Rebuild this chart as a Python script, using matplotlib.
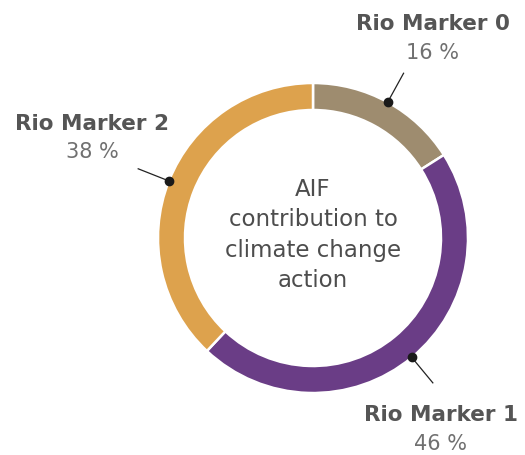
import numpy as np
import matplotlib
matplotlib.use("Agg")
import matplotlib.pyplot as plt

categories = ["Rio Marker 0", "Rio Marker 1", "Rio Marker 2"]
values = [16, 46, 38]
colors = ["#9E8C6F", "#6A3D86", "#DDA24D"]
center_text = "AIF\ncontribution to\nclimate change\naction"

W, H = 525, 455
fig = plt.figure(figsize=(W / 100, H / 100), dpi=100)
ax = fig.add_axes([0, 0, 1, 1])
ax.set_xlim(0, W)
ax.set_ylim(0, H)
ax.axis("off")

cx, cy = 313, H - 238
R = 155
wedges, _ = ax.pie(values, colors=colors, startangle=90, counterclock=False,
                   radius=R, center=(cx, cy),
                   wedgeprops=dict(width=27, edgecolor="white", linewidth=1.8))
ax.set_xlim(0, W)
ax.set_ylim(0, H)

font = ["DejaVu Sans"]
ax.text(cx, cy + 3, center_text, ha="center", va="center", fontsize=16.5,
        color="#4d4d4d", family=font, fontweight="normal", linespacing=1.42)

# label positions (pixel coords from top-left)
label_pos = [(433, 24, 53), (441, 415, 444), (92, 124, 152)]
for w, cat, val, (lx, ly, py) in zip(wedges, categories, values, label_pos):
    mid = np.deg2rad((w.theta1 + w.theta2) / 2)
    dx, dy = np.cos(mid), np.sin(mid)
    x0, y0 = cx + R * dx, cy + R * dy
    x1, y1 = cx + (R + 33) * dx, cy + (R + 33) * dy
    ax.plot([x0, x1], [y0, y1], color="#222222", lw=0.9, zorder=4)
    ax.plot([x0], [y0], "o", color="#1a1a1a", ms=6, zorder=5)
    ax.text(lx, H - ly, cat, ha="center", va="center", fontsize=15.5,
            fontweight="bold", color="#555555", family=font)
    ax.text(lx, H - py, f"{val} %", ha="center", va="center", fontsize=15,
            fontweight="normal", color="#707070", family=font)

fig.savefig("out.png", dpi=100, facecolor="white")
